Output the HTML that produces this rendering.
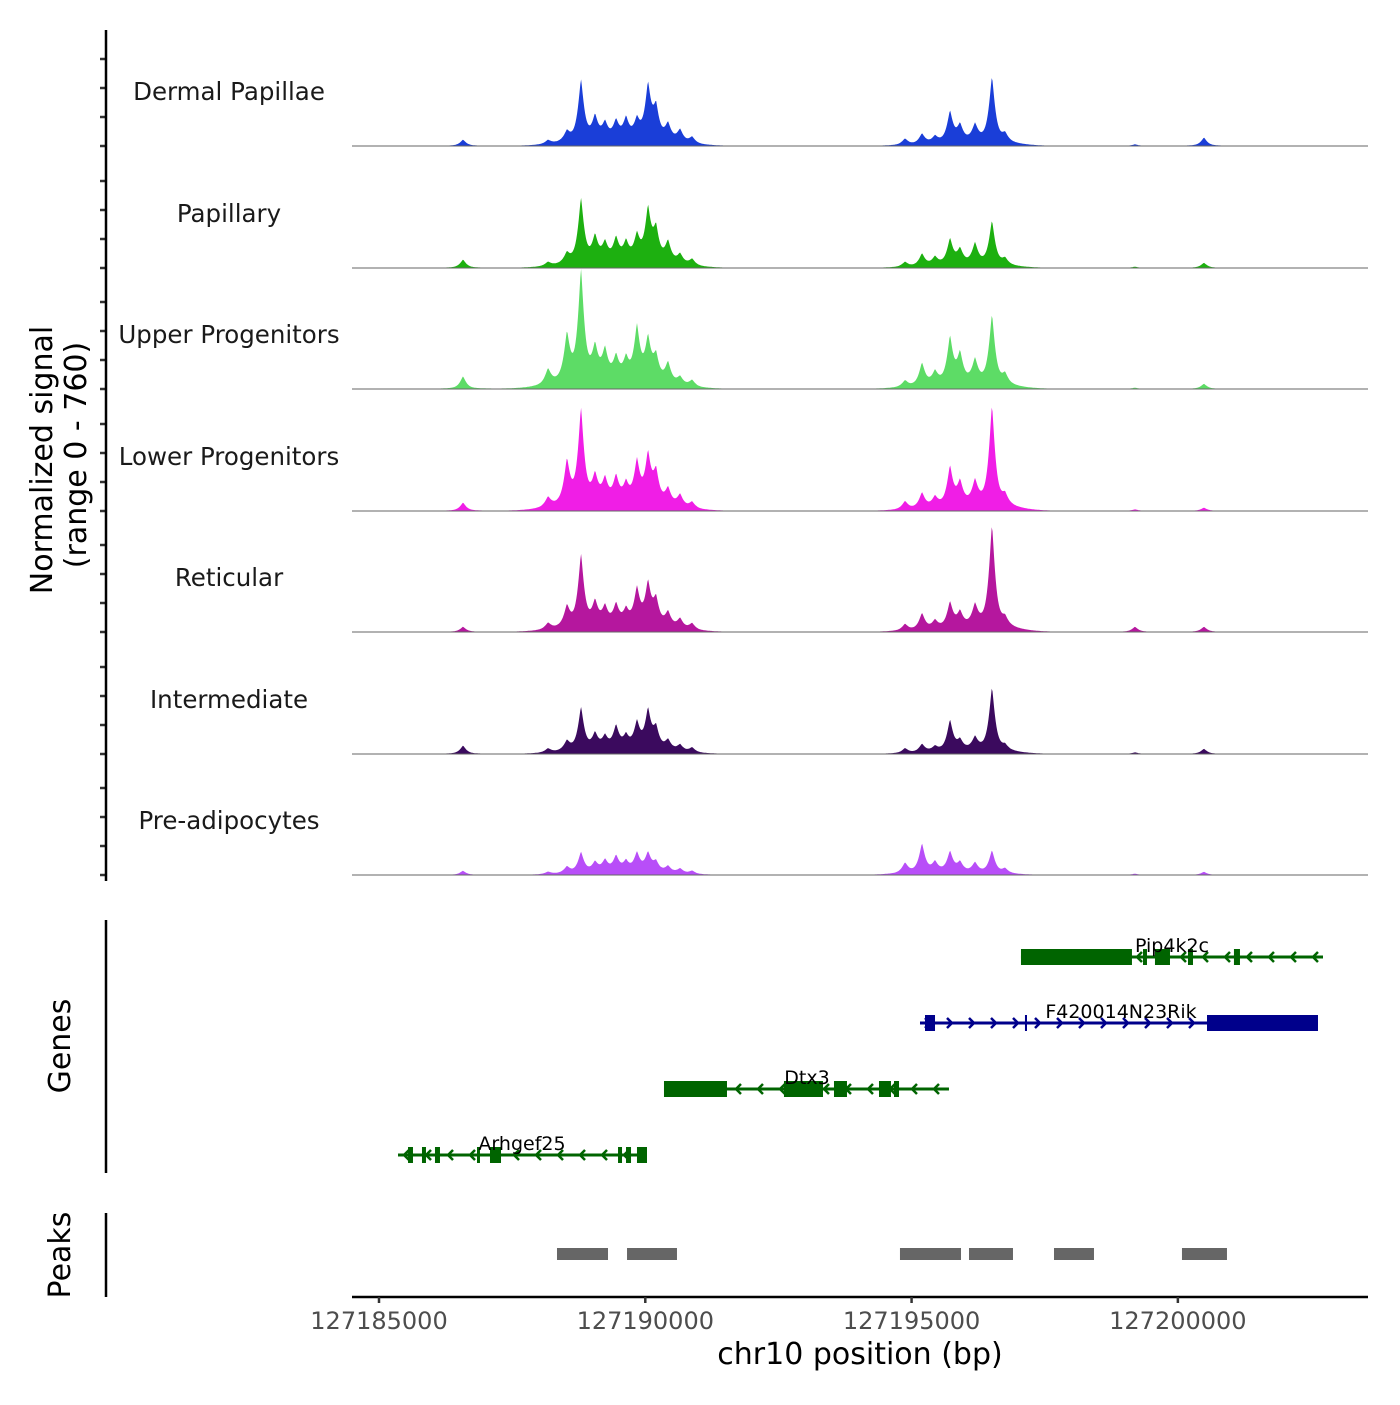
<!DOCTYPE html>
<html><head><meta charset="utf-8"><style>
body{margin:0;background:#fff;}
svg text{font-family:"DejaVu Sans","Liberation Sans",sans-serif;}
</style></head><body>
<svg id="chart" width="1400" height="1400" viewBox="0 0 1400 1400" xmlns="http://www.w3.org/2000/svg">
<g id="covg"></g>
<g id="geneg"></g>
<g id="peakg"></g>
<g id="axg"></g>
</svg>
<script>
// ---- data ----
const trackNames = ["Dermal Papillae","Papillary","Upper Progenitors","Lower Progenitors","Reticular","Intermediate","Pre-adipocytes"];
const trackColors = ["#1a3ed8","#1db010","#5ddc66","#f01ee6","#b5179e","#3b0a5e","#b84ef8"];
const peakPositions = [127186577,127188173,127188530,127188793,127189056,127189243,127189450,127189638,127189844,127190051,127190201,127190426,127190652,127190877,127194876,127195196,127195440,127195721,127195909,127196190,127196510,127196754,127199195,127200490];
const heightsDermal = [38,25,62,375,140,100,112,125,112,325,190,100,75,40,38,62,40,188,100,100,400,50,10,50];
const heightsPapillary = [50,25,62,394,150,110,138,112,150,312,190,125,60,40,30,75,50,156,90,125,269,40,8,31];
const heightsUpper = [75,94,281,669,188,175,138,125,325,250,150,125,50,40,40,138,75,281,175,138,425,62,8,31];
const heightsLower = [50,60,262,575,156,138,156,112,250,288,188,100,75,40,50,94,60,238,138,138,612,62,10,20];
const heightsReticular = [31,40,125,438,138,110,125,90,219,250,156,90,60,40,40,100,50,156,90,125,625,50,31,31];
const heightsIntermediate = [50,25,60,262,94,75,138,75,156,231,125,60,40,30,30,50,30,188,60,75,388,30,10,31];
const heightsPreadipo = [25,15,40,125,60,70,94,60,112,112,60,40,30,20,62,175,60,125,60,60,138,30,8,19];
const trackHeights = [heightsDermal,heightsPapillary,heightsUpper,heightsLower,heightsReticular,heightsIntermediate,heightsPreadipo];
const xTicks = [127185000,127190000,127195000,127200000];
const xTickLabels = ["127185000","127190000","127195000","127200000"];
const geneNames = ["Pip4k2c","F420014N23Rik","Dtx3","Arhgef25"];
const geneStrands = ["-","+","-","-"];
const geneColors = ["#006400","#00008b","#006400","#006400"];
const geneStarts = [127197054,127195158,127190351,127185357];
const geneEnds = [127202725,127202631,127195702,127190032];
const geneExons = [
 [[127197054,127199138],[127199345,127199420],[127199570,127199852],[127200190,127200284],[127201053,127201166]],
 [[127195252,127195440],[127197129,127197167],[127200547,127202631]],
 [[127190351,127191534],[127192604,127193337],[127193543,127193787],[127194388,127194613],[127194670,127194764]],
 [[127185545,127185638],[127185807,127185882],[127186051,127186145],[127186840,127186896],[127187084,127187291],[127189488,127189563],[127189638,127189732],[127189844,127190032]]
];
const peakStarts = [127188342,127189657,127194782,127196078,127197674,127200077];
const peakEnds = [127189300,127190595,127195928,127196904,127198425,127200922];

// ---- scales ----
const NS="http://www.w3.org/2000/svg";
const X0=352,X1=1368,BP0=127184493,BP1=127203570;
const xs=bp=>X0+(bp-BP0)/(BP1-BP0)*(X1-X0);
const baselines=[146,268,389,511,632,754,875];
const MAXV=760, TH=121.5;
const ys=(b,v)=>b-v/MAXV*TH;
function mk(tag,attrs,parent){const e=document.createElementNS(NS,tag);for(const k in attrs)e.setAttribute(k,attrs[k]);parent.appendChild(e);return e;}
const covg=document.getElementById('covg'),geneg=document.getElementById('geneg'),peakg=document.getElementById('peakg'),axg=document.getElementById('axg');

// coverage
const sigStart=127185300, sigEnd=127201500, step=15;
trackNames.forEach((name,t)=>{
  const b=baselines[t];
  const g=mk('g',{},covg);
  
  
  let d='M'+xs(sigStart).toFixed(1)+','+b;
  for(let p=sigStart;p<=sigEnd;p+=step){
    let v=0;
    peakPositions.forEach((pp,i)=>{const h=trackHeights[t][i];const dd=Math.abs(p-pp);v+=h*0.85*Math.exp(-Math.pow(dd/75,1.3))+h*0.2*Math.exp(-dd/280);});
    d+=' L'+xs(p).toFixed(1)+','+ys(b,Math.min(v,MAXV)).toFixed(1);
  }
  d+=' L'+xs(sigEnd).toFixed(1)+','+b+' Z';
  const a=mk('path',{d:d,fill:trackColors[t],stroke:'none'},g);
  
  
  const bl=mk('line',{x1:X0,x2:X1,y1:b,y2:b,stroke:'#666','stroke-width':1},g);
  
  
  const lab=mk('text',{x:229,y:b-46,'text-anchor':'middle','font-size':24.5,fill:'#1a1a1a'},g);
  lab.textContent=name;
  
  
  for(let k=0;k<4;k++){const tk=mk('line',{x1:100,x2:106,y1:b-k*29,y2:b-k*29,stroke:'#333','stroke-width':2.5},axg);
    
    }
});

// genes
const geneY=[957,1023,1089,1155];
const geneLabelX=[1172,1121,807,522];
geneNames.forEach((gname,i)=>{
  const y=geneY[i],c=geneColors[i];
  const g=mk('g',{},geneg);
  
  
  const x1=xs(geneStarts[i]),x2=xs(geneEnds[i]);
  mk('line',{x1:x1,x2:x2,y1:y,y2:y,stroke:c,'stroke-width':3},g);
  for(let x=x1+8;x<x2-4;x+=22){
    const dir=geneStrands[i]=='+'?1:-1;
    mk('polyline',{points:`${x-3*dir},${y-5} ${x+2*dir},${y} ${x-3*dir},${y+5}`,fill:'none',stroke:c,'stroke-width':2.5},g);
  }
  geneExons[i].forEach(ex=>{
    const r=mk('rect',{x:xs(ex[0]),y:y-8,width:Math.max(2,xs(ex[1])-xs(ex[0])),height:16,fill:c},g);
    
    
  });
  const lab=mk('text',{x:geneLabelX[i],y:y-5,'text-anchor':'middle','font-size':19,fill:'#000'},g);
  lab.textContent=gname;
  
  
});

// peaks
peakStarts.forEach((s,i)=>{
  const r=mk('rect',{x:xs(s),y:1248,width:xs(peakEnds[i])-xs(s),height:12,fill:'#666'},peakg);
  
  
});

// axes
const yl=mk('line',{x1:106,x2:106,y1:30,y2:881,stroke:'#000','stroke-width':2.5},axg);


const gl=mk('line',{x1:106,x2:106,y1:920,y2:1173,stroke:'#000','stroke-width':2.5},axg);


const pl=mk('line',{x1:106,x2:106,y1:1213,y2:1297,stroke:'#000','stroke-width':2.5},axg);


const xl=mk('line',{x1:X0,x2:X1,y1:1297,y2:1297,stroke:'#000','stroke-width':2.5},axg);


xTicks.forEach((v,i)=>{
  const tk=mk('line',{x1:xs(v),x2:xs(v),y1:1297,y2:1303,stroke:'#333','stroke-width':2.5},axg);
  
  
  const t=mk('text',{x:xs(v),y:1329,'text-anchor':'middle','font-size':24,fill:'#4d4d4d'},axg);
  t.textContent=xTickLabels[i];
  
  
});
const xt=mk('text',{x:860,y:1364,'text-anchor':'middle','font-size':30,fill:'#000'},axg);
xt.textContent='chr10 position (bp)';


const yt=mk('text',{transform:'translate(52,460) rotate(-90)','text-anchor':'middle','font-size':30,fill:'#000'},axg);
yt.textContent='Normalized signal';


const yt2=mk('text',{transform:'translate(86,455) rotate(-90)','text-anchor':'middle','font-size':30,fill:'#000'},axg);
yt2.textContent='(range 0 - 760)';


const gt=mk('text',{transform:'translate(70,1046) rotate(-90)','text-anchor':'middle','font-size':30,fill:'#000'},axg);
gt.textContent='Genes';


const pt=mk('text',{transform:'translate(70,1255) rotate(-90)','text-anchor':'middle','font-size':30,fill:'#000'},axg);
pt.textContent='Peaks';


</script>
</body></html>
